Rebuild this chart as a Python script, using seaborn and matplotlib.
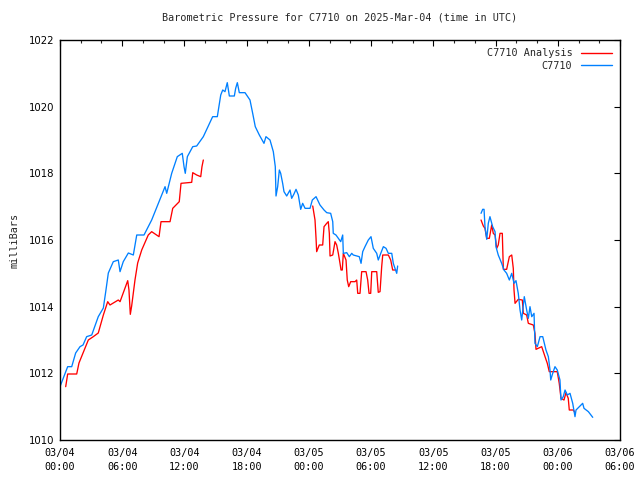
import matplotlib
matplotlib.use("Agg")
import matplotlib.pyplot as plt
import seaborn as sns
import pandas as pd
import numpy as np

# hours since 2025-03-04 00:00 UTC, pressure in millibars
obs_seg1_h = [0.0, 0.74, 1.13, 1.51, 1.93, 2.22, 2.57, 3.06, 3.69, 4.18, 4.41, 4.66, 5.14, 5.62, 5.79,
              6.10, 6.59, 7.07, 7.40, 8.10, 8.84, 10.13, 10.29, 10.77, 11.31, 11.79, 11.96, 12.08, 12.28,
              12.80, 13.18, 13.82, 14.72, 15.17, 15.50, 15.69, 15.91, 16.13, 16.33, 16.81, 16.94, 17.10,
              17.29, 17.84, 18.32, 18.58, 18.83, 19.22, 19.67, 19.86, 20.25, 20.57, 20.76, 20.83, 20.99,
              21.15, 21.28, 21.47, 21.60, 21.86, 22.18, 22.34, 22.56, 22.76, 22.98, 23.14, 23.21, 23.40,
              23.63, 24.11, 24.33, 24.69, 25.07, 25.46, 25.72, 26.10, 26.30, 26.35, 26.61, 26.84, 27.07,
              27.26, 27.32, 27.65, 27.90, 28.13, 28.28, 28.86, 29.03, 29.19, 29.41, 29.73, 29.99, 30.21,
              30.54, 30.69, 30.93, 31.18, 31.44, 31.66, 31.99, 32.14, 32.30, 32.47, 32.56]
obs_seg1_p = [1011.60, 1012.20, 1012.20, 1012.61, 1012.80, 1012.85, 1013.10, 1013.15, 1013.70, 1013.96,
              1014.45, 1015.01, 1015.35, 1015.40, 1015.05, 1015.35, 1015.61, 1015.55, 1016.15, 1016.15,
              1016.60, 1017.60, 1017.40, 1018.00, 1018.50, 1018.60, 1018.20, 1018.00, 1018.50, 1018.80,
              1018.82, 1019.10, 1019.70, 1019.70, 1020.35, 1020.50, 1020.45, 1020.72, 1020.32, 1020.32,
              1020.55, 1020.72, 1020.42, 1020.42, 1020.20, 1019.80, 1019.40, 1019.15, 1018.90, 1019.10,
              1019.00, 1018.65, 1018.20, 1017.32, 1017.60, 1018.10, 1018.00, 1017.70, 1017.45, 1017.32,
              1017.50, 1017.25, 1017.38, 1017.52, 1017.35, 1017.05, 1016.92, 1017.10, 1016.95, 1016.95,
              1017.20, 1017.30, 1017.05, 1016.90, 1016.82, 1016.80, 1016.55, 1016.20, 1016.15, 1016.05,
              1015.95, 1016.15, 1015.60, 1015.62, 1015.50, 1015.60, 1015.55, 1015.50, 1015.30, 1015.65,
              1015.80, 1016.00, 1016.10, 1015.75, 1015.60, 1015.40, 1015.60, 1015.80, 1015.75, 1015.60,
              1015.60, 1015.30, 1015.15, 1015.00, 1015.22]

obs_seg2_h = [40.60, 40.76, 40.89, 40.98, 41.15, 41.30, 41.46, 41.72, 41.95, 42.04, 42.26, 42.59, 42.81,
              43.07, 43.33, 43.56, 43.78, 43.97, 44.19, 44.36, 44.52, 44.77, 45.00, 45.16, 45.32, 45.49,
              45.71, 45.80, 46.03, 46.29, 46.55, 46.86, 47.09, 47.25, 47.32, 47.51, 47.73, 47.95, 48.21,
              48.31, 48.53, 48.70, 48.92, 49.18, 49.44, 49.66, 49.76, 50.08, 50.40, 50.53, 50.95, 51.37]
obs_seg2_p = [1016.80, 1016.92, 1016.92, 1016.40, 1016.02, 1016.50, 1016.70, 1016.40, 1016.25, 1015.80,
              1015.55, 1015.30, 1015.10, 1015.00, 1014.80, 1015.00, 1014.70, 1014.78, 1014.40, 1013.90,
              1013.60, 1014.30, 1013.90, 1013.65, 1014.00, 1013.70, 1013.80, 1012.90, 1012.80, 1013.10,
              1013.10, 1012.70, 1012.50, 1012.10, 1011.80, 1012.00, 1012.20, 1012.10, 1011.80, 1011.20,
              1011.30, 1011.50, 1011.35, 1011.40, 1011.10, 1010.70, 1010.90, 1011.00, 1011.10, 1010.95,
              1010.85, 1010.68]

ana_seg1_h = [0.55, 0.74, 1.61, 1.83, 2.73, 3.21, 3.69, 4.18, 4.60, 4.82, 5.62, 5.79, 6.53, 6.65, 6.78,
              6.91, 7.23, 7.49, 7.88, 8.51, 8.84, 9.55, 9.74, 10.61, 10.87, 11.50, 11.67, 12.70, 12.80,
              13.18, 13.57, 13.69, 13.82]
ana_seg1_p = [1011.60, 1011.98, 1011.98, 1012.31, 1013.00, 1013.10, 1013.21, 1013.75, 1014.15, 1014.05,
              1014.20, 1014.15, 1014.78, 1014.50, 1013.77, 1014.02, 1014.80, 1015.31, 1015.70, 1016.15,
              1016.25, 1016.10, 1016.55, 1016.55, 1016.95, 1017.15, 1017.70, 1017.73, 1018.02, 1017.95,
              1017.90, 1018.20, 1018.40]

ana_seg2_h = [24.37, 24.59, 24.69, 24.75, 25.00, 25.33, 25.46, 25.72, 25.87, 25.97, 26.04, 26.30, 26.52,
              26.68, 26.84, 27.00, 27.10, 27.22, 27.32, 27.58, 27.70, 27.84, 28.03, 28.45, 28.61, 28.71,
              28.93, 29.09, 29.51, 29.67, 29.80, 29.96, 30.06, 30.54, 30.69, 30.86, 31.02, 31.12, 31.66,
              31.89, 32.08, 32.40]
ana_seg2_p = [1017.02, 1016.60, 1016.05, 1015.65, 1015.85, 1015.85, 1016.40, 1016.50, 1016.55, 1016.20,
              1015.52, 1015.55, 1015.95, 1015.85, 1015.60, 1015.30, 1015.10, 1015.10, 1015.60, 1015.40,
              1014.80, 1014.60, 1014.75, 1014.75, 1014.80, 1014.40, 1014.40, 1015.05, 1015.05, 1014.80,
              1014.40, 1014.40, 1015.05, 1015.05, 1014.43, 1014.45, 1015.20, 1015.55, 1015.55, 1015.40,
              1015.10, 1015.10]

ana_seg3_h = [40.60, 40.82, 40.98, 41.15, 41.40, 41.63, 41.78, 41.95, 42.11, 42.26, 42.43, 42.65, 42.75,
              43.07, 43.33, 43.56, 43.71, 43.78, 43.88, 44.19, 44.58, 44.68, 45.00, 45.16, 45.64, 45.80,
              45.90, 46.45, 46.77, 46.99, 47.18, 47.95, 48.14, 48.31, 48.60, 48.79, 49.01, 49.11, 49.50,
              49.66]
ana_seg3_p = [1016.60, 1016.42, 1016.35, 1016.05, 1016.05, 1016.45, 1016.20, 1016.15, 1015.75, 1015.85,
              1016.20, 1016.20, 1015.12, 1015.12, 1015.50, 1015.55, 1015.15, 1014.50, 1014.10, 1014.22,
              1014.20, 1013.80, 1013.75, 1013.50, 1013.45, 1013.20, 1012.72, 1012.80, 1012.50, 1012.30,
              1012.05, 1012.05, 1011.70, 1011.25, 1011.20, 1011.42, 1011.25, 1010.90, 1010.90, 1010.82]

series_names = ["C7710 Analysis", "C7710"]
x_tick_labels = ["03/04\n00:00", "03/04\n06:00", "03/04\n12:00", "03/04\n18:00", "03/05\n00:00",
                 "03/05\n06:00", "03/05\n12:00", "03/05\n18:00", "03/06\n00:00", "03/06\n06:00"]
y_ticks = [1010, 1012, 1014, 1016, 1018, 1020, 1022]

start = pd.Timestamp("2025-03-04 00:00")
frames = []
for name, seg, hs, ps in [
    ("C7710 Analysis", 1, ana_seg1_h, ana_seg1_p),
    ("C7710 Analysis", 2, ana_seg2_h, ana_seg2_p),
    ("C7710 Analysis", 3, ana_seg3_h, ana_seg3_p),
    ("C7710", 4, obs_seg1_h, obs_seg1_p),
    ("C7710", 5, obs_seg2_h, obs_seg2_p),
]:
    frames.append(pd.DataFrame({"time": start + pd.to_timedelta(hs, unit="h"),
                                "pressure": ps, "series": name, "seg": seg}))
df = pd.concat(frames, ignore_index=True)

sns.set_style("white")
plt.rcParams["font.family"] = ["DejaVu Sans Mono", "DejaVu Sans"]

fig = plt.figure(figsize=(6.4, 4.8), dpi=100)
ax = fig.add_axes([60/640, 40/480, 560/640, 400/480])

sns.lineplot(data=df, x="time", y="pressure", hue="series", units="seg", estimator=None,
             sort=False, hue_order=series_names, palette=["#ff0000", "#0080ff"],
             linewidth=0.95, ax=ax)

xmin = start
xmax = start + pd.Timedelta(hours=54)
ax.set_xlim(xmin, xmax)
ax.set_ylim(1010, 1022)

major = [start + pd.Timedelta(hours=6*i) for i in range(10)]
minor = [start + pd.Timedelta(hours=2*i) for i in range(28)]
ax.set_xticks(major)
ax.set_xticklabels(x_tick_labels, fontsize=7.3, family="DejaVu Sans Mono", linespacing=1.5)
ax.set_xticks(minor, minor=True)
ax.set_yticks(y_ticks)
ax.set_yticklabels([str(v) for v in y_ticks], fontsize=7.3, family="DejaVu Sans")

ax.tick_params(axis="both", which="major", direction="in", length=4, width=0.8,
               top=True, right=True, colors="black", pad=4)
ax.tick_params(axis="x", which="minor", direction="in", length=2, width=0.8, top=True)
ax.tick_params(axis="x", which="major", pad=6)

for s in ax.spines.values():
    s.set_visible(True)
    s.set_color("black")
    s.set_linewidth(1.0)

ax.set_xlabel("")
ax.set_ylabel("milliBars", fontsize=7.3, family="DejaVu Sans Mono", labelpad=7)
ax.set_title("Barometric Pressure for C7710 on 2025-Mar-04 (time in UTC)", fontsize=7.3,
             family="DejaVu Sans Mono", pad=14)

leg = ax.legend(loc="upper right", frameon=False, markerfirst=False, fontsize=7.3,
                handlelength=3.0, handletextpad=0.9, borderaxespad=0.4, labelspacing=0.25)
for line in leg.get_lines():
    line.set_linewidth(1.0)

fig.savefig("out.png", dpi=100)
